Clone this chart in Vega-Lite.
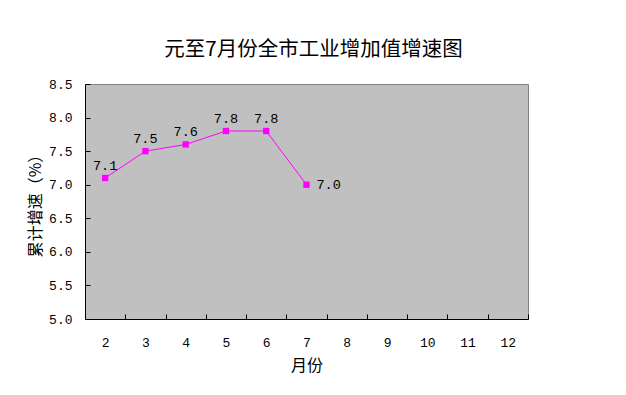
{
  "$schema": "https://vega.github.io/schema/vega-lite/v6.json",
  "autosize": {"type": "none"},
  "width": 443,
  "height": 235,
  "padding": {"left": 85, "top": 84, "right": 98, "bottom": 76},
  "background": "white",
  "title": {
    "text": "元至7月份全市工业增加值增速图",
    "font": "Noto Sans CJK SC",
    "fontSize": 20.5,
    "fontWeight": "normal",
    "color": "black",
    "anchor": "middle",
    "offset": 18,
    "dx": 7
  },
  "data": {
    "values": [
      {"month": 2, "rate": 7.1},
      {"month": 3, "rate": 7.5},
      {"month": 4, "rate": 7.6},
      {"month": 5, "rate": 7.8},
      {"month": 6, "rate": 7.8},
      {"month": 7, "rate": 7.0}
    ]
  },
  "encoding": {
    "x": {
      "field": "month",
      "type": "ordinal",
      "scale": {"domain": [2, 3, 4, 5, 6, 7, 8, 9, 10, 11, 12], "paddingInner": 0, "paddingOuter": 0},
      "axis": {
        "title": "月份",
        "titleFont": "Noto Sans CJK SC",
        "titleFontSize": 16,
        "titleFontWeight": "normal",
        "titleColor": "black",
        "titlePadding": 8,
        "labelFont": "Liberation Mono",
        "labelFontSize": 13,
        "labelColor": "black",
        "labelAngle": 0,
        "labelPadding": 22,
        "tickSize": -5,
        "tickColor": "black",
        "tickBand": "extent",
        "domainColor": "black",
        "grid": false
      }
    },
    "y": {
      "field": "rate",
      "type": "quantitative",
      "scale": {"domain": [5, 8.5], "nice": false, "zero": false},
      "axis": {
        "title": "累计增速（%）",
        "titleFont": "Noto Sans CJK SC",
        "titleFontSize": 16,
        "titleFontWeight": "normal",
        "titleColor": "black",
        "titlePadding": 5,
        "values": [5, 5.5, 6, 6.5, 7, 7.5, 8, 8.5],
        "format": ".1f",
        "labelFont": "Liberation Mono",
        "labelFontSize": 13,
        "labelColor": "black",
        "labelPadding": 18,
        "tickSize": -5,
        "tickColor": "black",
        "domainColor": "black",
        "grid": false
      }
    }
  },
  "layer": [
    {"mark": {"type": "line", "color": "#FF00FF", "strokeWidth": 1}},
    {"mark": {"type": "point", "shape": "square", "filled": true, "size": 40, "color": "#FF00FF", "opacity": 1}},
    {
      "transform": [{"filter": "datum.month < 7"}],
      "mark": {"type": "text", "font": "Liberation Mono", "fontSize": 13.5, "color": "black", "baseline": "alphabetic", "dy": -8},
      "encoding": {"text": {"field": "rate", "type": "quantitative", "format": ".1f"}}
    },
    {
      "transform": [{"filter": "datum.month == 7"}],
      "mark": {"type": "text", "font": "Liberation Mono", "fontSize": 13.5, "color": "black", "align": "left", "baseline": "middle", "dx": 10},
      "encoding": {"text": {"field": "rate", "type": "quantitative", "format": ".1f"}}
    }
  ],
  "config": {
    "view": {"fill": "#C0C0C0", "stroke": "#808080", "strokeWidth": 1}
  }
}
